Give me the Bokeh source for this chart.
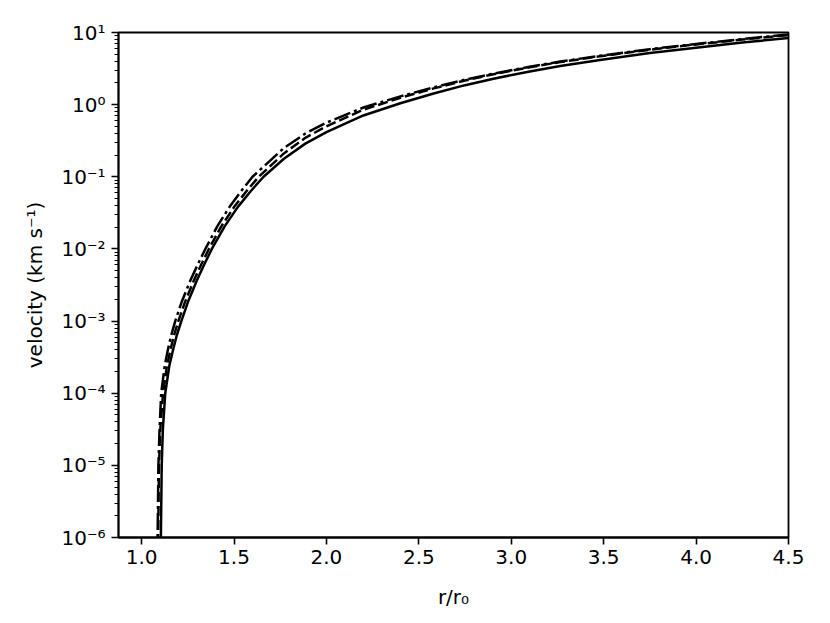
from bokeh.plotting import figure
from bokeh.models import Range1d, FixedTicker, CustomJSTickFormatter
from bokeh.embed import file_html
from bokeh.resources import INLINE

# ---- data (r/r0, velocity in km/s) ----
r_solid = [1.1030, 1.1043, 1.1088, 1.115, 1.128, 1.15, 1.17, 1.19, 1.215, 1.25,
           1.30, 1.34, 1.38, 1.45, 1.52, 1.59, 1.66, 1.77, 1.886, 2.0, 2.2, 2.4,
           2.58, 2.75, 2.904, 3.1, 3.265, 3.48, 3.75, 4.0, 4.25, 4.5]
v_solid = [1e-9, 1e-6, 1e-5, 3.16e-5, 1e-4, 2.40e-4, 3.98e-4, 6.31e-4, 1e-3, 1.82e-3,
           3.72e-3, 6.17e-3, 1e-2, 2.07e-2, 3.80e-2, 6.31e-2, 0.1, 0.178, 0.288, 0.417,
           0.708, 1.047, 1.429, 1.862, 2.291, 2.884, 3.428, 4.169, 5.188, 6.166, 7.244, 8.414]

r_dash = [1.0880, 1.0895, 1.094, 1.101, 1.116, 1.137, 1.156, 1.175, 1.199, 1.234,
          1.284, 1.324, 1.364, 1.432, 1.50, 1.567, 1.634, 1.77, 1.886, 2.0, 2.2, 2.4,
          2.58, 2.75, 2.904, 3.1, 3.265, 3.48, 3.75, 4.0, 4.25, 4.5]
v_dash = [1e-9, 1e-6, 1e-5, 3.16e-5, 1e-4, 2.40e-4, 3.98e-4, 6.31e-4, 1e-3, 1.82e-3,
          3.72e-3, 6.17e-3, 1e-2, 2.07e-2, 3.80e-2, 6.31e-2, 0.1, 0.211, 0.347, 0.501,
          0.851, 1.245, 1.679, 2.163, 2.642, 3.296, 3.890, 4.677, 5.781, 6.839, 7.980, 9.226]

r_dashdot = [1.0850, 1.0865, 1.091, 1.097, 1.106, 1.125, 1.142, 1.16, 1.182, 1.216,
             1.265, 1.305, 1.345, 1.41, 1.475, 1.538, 1.600, 1.77, 1.886, 2.0, 2.2, 2.4,
             2.58, 2.75, 2.904, 3.1, 3.265, 3.48, 3.75, 4.0, 4.25, 4.5]
v_dashdot = [1e-9, 1e-6, 1e-5, 3.16e-5, 1e-4, 2.40e-4, 3.98e-4, 6.31e-4, 1e-3, 1.82e-3,
             3.72e-3, 6.17e-3, 1e-2, 2.07e-2, 3.80e-2, 6.31e-2, 0.1, 0.251, 0.398, 0.562,
             0.912, 1.303, 1.738, 2.223, 2.692, 3.350, 3.954, 4.764, 5.875, 6.934, 8.110, 9.376]

x_ticks = [1.0, 1.5, 2.0, 2.5, 3.0, 3.5, 4.0, 4.5]
y_ticks = [1e-6, 1e-5, 1e-4, 1e-3, 1e-2, 1e-1, 1e0, 1e1]
y_minor = [k * 10.0 ** e for e in range(-6, 1) for k in range(2, 10)]

FONT = "DejaVu Sans"

p = figure(frame_width=670, frame_height=505,
           y_axis_type="log",
           x_range=Range1d(0.875, 4.5), y_range=Range1d(1e-6, 10),
           output_backend="svg", toolbar_location=None,
           min_border_left=118, min_border_right=30,
           min_border_top=32, min_border_bottom=84,
           background_fill_color="white", border_fill_color="white")

p.line(r_solid, v_solid, line_color="black", line_width=2.5)
p.line(r_dash, v_dash, line_color="black", line_width=2.5, line_dash="10 4")
p.line(r_dashdot, v_dashdot, line_color="black", line_width=2.5, line_dash="17 4 3 4")

p.xgrid.visible = False
p.ygrid.visible = False
p.outline_line_color = "black"
p.outline_line_width = 1.8
p.outline_line_alpha = 1.0

p.xaxis.ticker = FixedTicker(ticks=x_ticks)
p.xaxis.formatter = CustomJSTickFormatter(code="return tick.toFixed(1);")
p.yaxis.ticker = FixedTicker(ticks=y_ticks, minor_ticks=y_minor)
p.yaxis.formatter = CustomJSTickFormatter(code="""
const e = Math.round(Math.log10(tick));
const sup = {'-':'\u207b','0':'\u2070','1':'\u00b9','2':'\u00b2','3':'\u00b3',
             '4':'\u2074','5':'\u2075','6':'\u2076','7':'\u2077','8':'\u2078','9':'\u2079'};
return '10' + String(e).split('').map(c => sup[c]).join('');
""")

for ax in (p.xaxis, p.yaxis):
    ax.axis_line_color = "black"
    ax.axis_line_width = 1.8
    ax.major_tick_line_color = "black"
    ax.major_tick_line_width = 1.6
    ax.minor_tick_line_color = "black"
    ax.minor_tick_line_width = 1.2
    ax.major_tick_out = 7
    ax.major_tick_in = 0
    ax.minor_tick_out = 4
    ax.minor_tick_in = 0
    ax.major_label_text_font = FONT
    ax.major_label_text_font_size = "20px"
    ax.major_label_text_color = "black"
    ax.axis_label_text_font = FONT
    ax.axis_label_text_font_size = "20px"
    ax.axis_label_text_font_style = "normal"
    ax.axis_label_text_color = "black"

p.xaxis.axis_label = "r/r\u2080"
p.yaxis.axis_label = "velocity (km s\u207b\u00b9)"
p.xaxis.major_label_standoff = 5
p.yaxis.major_label_standoff = 6
p.xaxis.axis_label_standoff = 18
p.yaxis.axis_label_standoff = 11

open("out.html", "w").write(file_html(p, INLINE))
